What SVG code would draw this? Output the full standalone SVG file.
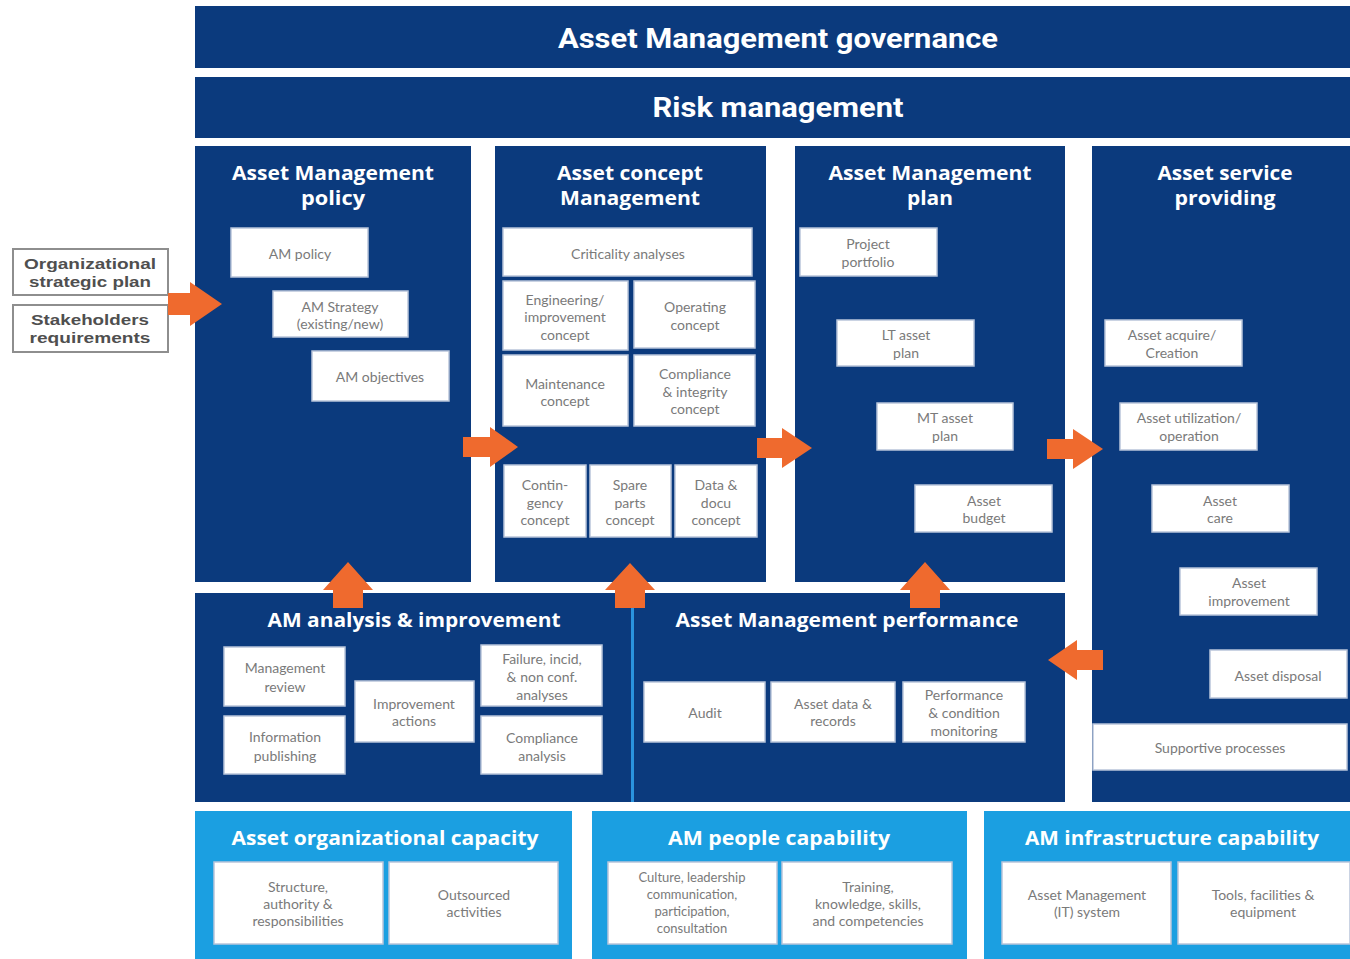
<svg xmlns="http://www.w3.org/2000/svg" width="1350" height="959" viewBox="0 0 1350 959">
<style>
.navy{fill:#0b3a7d}
.lb{fill:#1b9fe1}
.box{fill:#ffffff;stroke:#b9c5da;stroke-width:1.5}
.inbox{fill:#ffffff;stroke:#8e8e8e;stroke-width:2}
.bt{font-family:Lato,"Open Sans","Liberation Sans",sans-serif;font-size:14px;fill:#7a7a7a;text-anchor:middle;dominant-baseline:central}
.bts{font-size:13px}
.h1{font-family:Roboto,"Open Sans","Liberation Sans",sans-serif;font-weight:700;font-size:27px;fill:#ffffff;text-anchor:middle;dominant-baseline:central}
.h2{font-family:"Open Sans","Liberation Sans",sans-serif;font-weight:700;font-size:19px;fill:#ffffff;text-anchor:middle;dominant-baseline:central}
.it{font-family:"Liberation Sans",Arial,sans-serif;font-weight:700;font-size:15px;fill:#4f4f4f;text-anchor:middle;dominant-baseline:central}
.arr{fill:#ef6a2e}
</style>

<g id="governance">
<rect class="navy" x="195" y="6" width="1155" height="62"/>
<text class="h1" x="778" y="39" textLength="440" lengthAdjust="spacingAndGlyphs">Asset Management governance</text>
</g>
<g id="risk">
<rect class="navy" x="195" y="77" width="1155" height="61"/>
<text class="h1" x="778" y="108" textLength="251" lengthAdjust="spacingAndGlyphs">Risk management</text>
</g>

<g id="inputs">
<rect class="inbox" x="13" y="249" width="155" height="46"/>
<text class="it" x="90" y="263" textLength="132" lengthAdjust="spacingAndGlyphs">Organizational</text>
<text class="it" x="90" y="281" textLength="122" lengthAdjust="spacingAndGlyphs">strategic plan</text>
<rect class="inbox" x="13" y="305" width="155" height="47"/>
<text class="it" x="90" y="319" textLength="118" lengthAdjust="spacingAndGlyphs">Stakeholders</text>
<text class="it" x="90" y="337" textLength="121" lengthAdjust="spacingAndGlyphs">requirements</text>
</g>

<g id="am-policy">
<rect class="navy" x="195" y="146" width="276" height="436"/>
<text class="h2" x="333" y="173" textLength="202" lengthAdjust="spacingAndGlyphs">Asset Management</text>
<text class="h2" x="333" y="198" textLength="64" lengthAdjust="spacingAndGlyphs">policy</text>
<rect class="box" x="231" y="228" width="137" height="49"/>
<text class="bt" x="300" y="253">AM policy</text>
<rect class="box" x="273" y="291" width="135" height="46"/>
<text class="bt" x="340" y="306">AM Strategy</text>
<text class="bt" x="340" y="323">(existing/new)</text>
<rect class="box" x="312" y="351" width="137" height="50"/>
<text class="bt" x="380" y="376">AM objectives</text>
</g>

<g id="asset-concept">
<rect class="navy" x="495" y="146" width="271" height="436"/>
<text class="h2" x="630" y="173" textLength="146" lengthAdjust="spacingAndGlyphs">Asset concept</text>
<text class="h2" x="630" y="198" textLength="140" lengthAdjust="spacingAndGlyphs">Management</text>
<rect class="box" x="503" y="228" width="249" height="48"/>
<text class="bt" x="628" y="253">Criticality analyses</text>
<rect class="box" x="503" y="281" width="125" height="69"/>
<text class="bt" x="565" y="299">Engineering/</text>
<text class="bt" x="565" y="316">improvement</text>
<text class="bt" x="565" y="334">concept</text>
<rect class="box" x="634" y="281" width="121" height="67"/>
<text class="bt" x="695" y="306">Operating</text>
<text class="bt" x="695" y="324">concept</text>
<rect class="box" x="503" y="355" width="125" height="71"/>
<text class="bt" x="565" y="383">Maintenance</text>
<text class="bt" x="565" y="400">concept</text>
<rect class="box" x="634" y="355" width="121" height="71"/>
<text class="bt" x="695" y="373">Compliance</text>
<text class="bt" x="695" y="391">&amp; integrity</text>
<text class="bt" x="695" y="408">concept</text>
<rect class="box" x="504" y="465" width="82" height="72"/>
<text class="bt" x="545" y="484">Contin-</text>
<text class="bt" x="545" y="502">gency</text>
<text class="bt" x="545" y="519">concept</text>
<rect class="box" x="590" y="465" width="81" height="72"/>
<text class="bt" x="630" y="484">Spare</text>
<text class="bt" x="630" y="502">parts</text>
<text class="bt" x="630" y="519">concept</text>
<rect class="box" x="675" y="465" width="82" height="72"/>
<text class="bt" x="716" y="484">Data &amp;</text>
<text class="bt" x="716" y="502">docu</text>
<text class="bt" x="716" y="519">concept</text>
</g>

<g id="am-plan">
<rect class="navy" x="795" y="146" width="270" height="436"/>
<text class="h2" x="930" y="173" textLength="203" lengthAdjust="spacingAndGlyphs">Asset Management</text>
<text class="h2" x="930" y="198" textLength="46" lengthAdjust="spacingAndGlyphs">plan</text>
<rect class="box" x="800" y="228" width="137" height="48"/>
<text class="bt" x="868" y="243">Project</text>
<text class="bt" x="868" y="261">portfolio</text>
<rect class="box" x="837" y="320" width="137" height="46"/>
<text class="bt" x="906" y="334">LT asset</text>
<text class="bt" x="906" y="352">plan</text>
<rect class="box" x="877" y="403" width="136" height="47"/>
<text class="bt" x="945" y="417">MT asset</text>
<text class="bt" x="945" y="435">plan</text>
<rect class="box" x="915" y="485" width="137" height="47"/>
<text class="bt" x="984" y="500">Asset</text>
<text class="bt" x="984" y="517">budget</text>
</g>

<g id="asset-service">
<rect class="navy" x="1092" y="146" width="258" height="656"/>
<text class="h2" x="1225" y="173" textLength="135" lengthAdjust="spacingAndGlyphs">Asset service</text>
<text class="h2" x="1225" y="198" textLength="101" lengthAdjust="spacingAndGlyphs">providing</text>
<rect class="box" x="1105" y="320" width="137" height="46"/>
<text class="bt" x="1172" y="334">Asset acquire/</text>
<text class="bt" x="1172" y="352">Creation</text>
<rect class="box" x="1120" y="403" width="137" height="47"/>
<text class="bt" x="1189" y="417">Asset utilization/</text>
<text class="bt" x="1189" y="435">operation</text>
<rect class="box" x="1152" y="485" width="137" height="47"/>
<text class="bt" x="1220" y="500">Asset</text>
<text class="bt" x="1220" y="517">care</text>
<rect class="box" x="1180" y="568" width="137" height="47"/>
<text class="bt" x="1249" y="582">Asset</text>
<text class="bt" x="1249" y="600">improvement</text>
<rect class="box" x="1210" y="650" width="137" height="48"/>
<text class="bt" x="1278" y="675">Asset disposal</text>
<rect class="box" x="1093" y="724" width="254" height="46"/>
<text class="bt" x="1220" y="747">Supportive processes</text>
</g>

<g id="analysis-performance-panel">
<rect class="navy" x="195" y="593" width="870" height="209"/>
</g>

<g id="am-analysis">
<text class="h2" x="414" y="620" textLength="293" lengthAdjust="spacingAndGlyphs">AM analysis &amp; improvement</text>
<rect class="box" x="224" y="647" width="121" height="59"/>
<text class="bt" x="285" y="667">Management</text>
<text class="bt" x="285" y="686">review</text>
<rect class="box" x="224" y="716" width="121" height="58"/>
<text class="bt" x="285" y="736">Information</text>
<text class="bt" x="285" y="755">publishing</text>
<rect class="box" x="355" y="681" width="119" height="61"/>
<text class="bt" x="414" y="703">Improvement</text>
<text class="bt" x="414" y="720">actions</text>
<rect class="box" x="481" y="645" width="121" height="61"/>
<text class="bt" x="542" y="658">Failure, incid,</text>
<text class="bt" x="542" y="676">&amp; non conf.</text>
<text class="bt" x="542" y="694">analyses</text>
<rect class="box" x="481" y="716" width="121" height="58"/>
<text class="bt" x="542" y="737">Compliance</text>
<text class="bt" x="542" y="755">analysis</text>
</g>

<g id="am-performance">
<text class="h2" x="847" y="620" textLength="343" lengthAdjust="spacingAndGlyphs">Asset Management performance</text>
<rect class="box" x="644" y="682" width="121" height="60"/>
<text class="bt" x="705" y="712">Audit</text>
<rect class="box" x="771" y="682" width="124" height="60"/>
<text class="bt" x="833" y="703">Asset data &amp;</text>
<text class="bt" x="833" y="720">records</text>
<rect class="box" x="903" y="682" width="122" height="60"/>
<text class="bt" x="964" y="694">Performance</text>
<text class="bt" x="964" y="712">&amp; condition</text>
<text class="bt" x="964" y="730">monitoring</text>
</g>

<g id="org-capacity">
<rect class="lb" x="195" y="811" width="377" height="148"/>
<text class="h2" x="385" y="838" textLength="307" lengthAdjust="spacingAndGlyphs">Asset organizational capacity</text>
<rect class="box" x="214" y="862" width="169" height="82"/>
<text class="bt" x="298" y="886">Structure,</text>
<text class="bt" x="298" y="903">authority &amp;</text>
<text class="bt" x="298" y="920">responsibilities</text>
<rect class="box" x="389" y="862" width="169" height="82"/>
<text class="bt" x="474" y="894">Outsourced</text>
<text class="bt" x="474" y="911">activities</text>
</g>

<g id="people-capability">
<rect class="lb" x="592" y="811" width="375" height="148"/>
<text class="h2" x="779" y="838" textLength="222" lengthAdjust="spacingAndGlyphs">AM people capability</text>
<rect class="box" x="608" y="862" width="169" height="82"/>
<text class="bt bts" x="692" y="877">Culture, leadership</text>
<text class="bt bts" x="692" y="894">communication,</text>
<text class="bt bts" x="692" y="911">participation,</text>
<text class="bt bts" x="692" y="928">consultation</text>
<rect class="box" x="782" y="862" width="170" height="82"/>
<text class="bt" x="868" y="886">Training,</text>
<text class="bt" x="868" y="903">knowledge, skills,</text>
<text class="bt" x="868" y="920">and competencies</text>
</g>

<g id="infrastructure-capability">
<rect class="lb" x="984" y="811" width="366" height="148"/>
<text class="h2" x="1172" y="838" textLength="294" lengthAdjust="spacingAndGlyphs">AM infrastructure capability</text>
<rect class="box" x="1002" y="862" width="169" height="82"/>
<text class="bt" x="1087" y="894">Asset Management</text>
<text class="bt" x="1087" y="911">(IT) system</text>
<rect class="box" x="1178" y="862" width="172" height="82"/>
<text class="bt" x="1263" y="894">Tools, facilities &amp;</text>
<text class="bt" x="1263" y="911">equipment</text>
</g>

<g id="connectors">
<line x1="632.5" y1="600" x2="632.5" y2="802" stroke="#2a93de" stroke-width="3"/>
<polygon class="arr" points="168,293 190,293 190,282 222,304 190,326 190,315 168,315"/>
<polygon class="arr" points="463,437 490,437 490,427 518,447 490,467 490,457 463,457"/>
<polygon class="arr" points="757,438 782,438 782,428 812,448 782,468 782,458 757,458"/>
<polygon class="arr" points="1047,439 1073,439 1073,429 1103,449 1073,469 1073,459 1047,459"/>
<polygon class="arr" points="1103,650 1077,650 1077,640 1048,660 1077,680 1077,670 1103,670"/>
<polygon class="arr" points="333,608 333,590 323,590 348,562 373,590 363,590 363,608"/>
<polygon class="arr" points="615,608 615,590 605,590 630,563 655,590 645,590 645,608"/>
<polygon class="arr" points="910,608 910,590 900,590 925,562 950,590 940,590 940,608"/>
</g>
</svg>
